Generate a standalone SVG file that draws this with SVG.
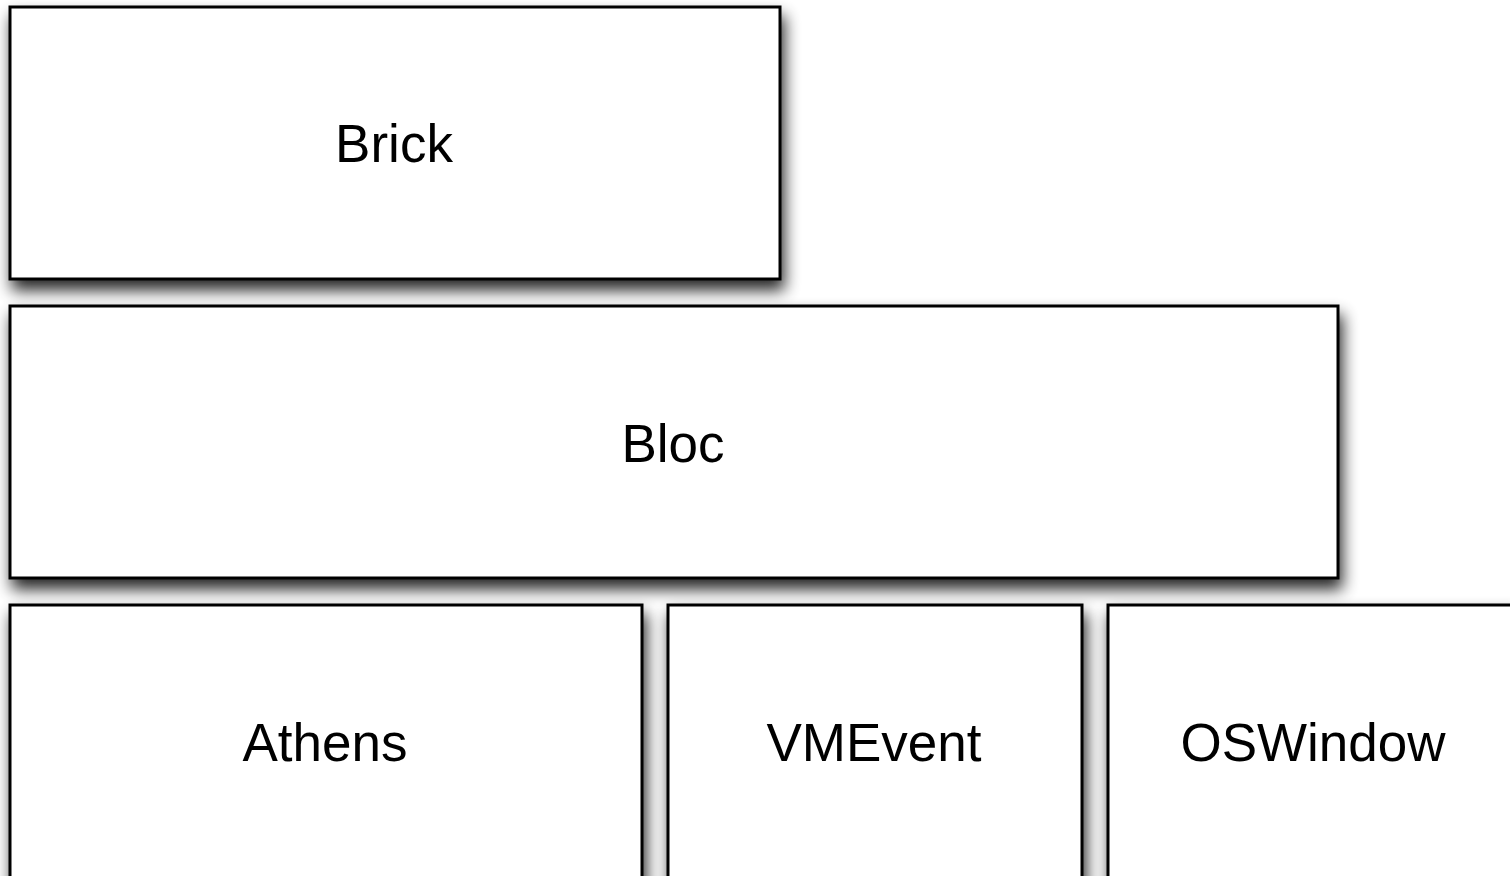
<svg xmlns="http://www.w3.org/2000/svg" width="1510" height="876" viewBox="0 0 1510 876">
<style>
.box{fill:#fff;stroke:#000;stroke-width:3;filter:url(#sh)}
.lbl{font-family:"Liberation Sans",Arial,sans-serif;font-size:53px;fill:#000;text-anchor:middle}
</style>
<defs>
<filter id="sh" x="-10%" y="-10%" width="120%" height="140%">
<feGaussianBlur in="SourceAlpha" stdDeviation="8"/>
<feOffset dx="3" dy="10" result="b"/>
<feComponentTransfer><feFuncA type="linear" slope="0.85"/></feComponentTransfer>
<feMerge><feMergeNode/><feMergeNode in="SourceGraphic"/></feMerge>
</filter>
</defs>
<rect width="1510" height="876" fill="#fff"/>
<g id="brick"><rect class="box" x="10" y="7" width="770" height="272"/><text class="lbl" x="394" y="162">Brick</text></g>
<g id="bloc"><rect class="box" x="10" y="306" width="1328" height="272"/><text class="lbl" x="673" y="462">Bloc</text></g>
<g id="athens"><rect class="box" x="10" y="605" width="632" height="300"/><text class="lbl" x="325" y="761">Athens</text></g>
<g id="vmevent"><rect class="box" x="668" y="605" width="414" height="300"/><text class="lbl" x="874" y="761">VMEvent</text></g>
<g id="oswindow"><rect class="box" x="1108" y="605" width="410" height="300"/><text class="lbl" x="1313" y="761">OSWindow</text></g>
<g id="connectors"/>
</svg>
